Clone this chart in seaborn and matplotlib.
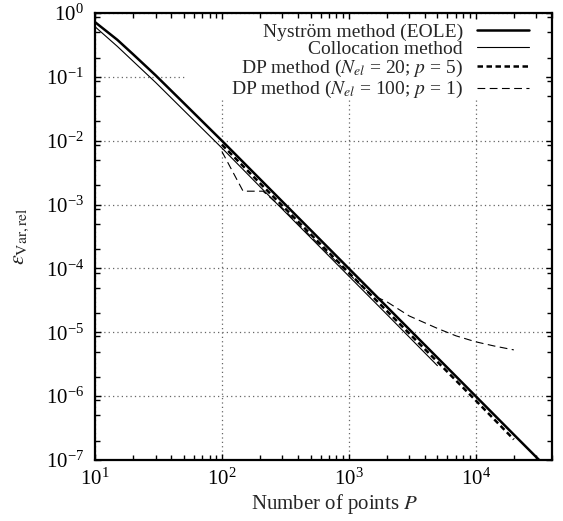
import numpy as np
import pandas as pd
import matplotlib
matplotlib.use("Agg")
import matplotlib.pyplot as plt
from matplotlib.patches import Rectangle
from matplotlib.ticker import FixedLocator, LogFormatterMathtext, NullFormatter
import seaborn as sns

# Relative variance error versus number of discretisation points
P_nystrom = [10, 15, 20, 30, 50, 100, 200, 500, 1000, 2000, 5000, 10000, 20000, 32000]
eps_nystrom = [0.72, 0.38, 0.225, 0.106, 0.039, 0.01, 0.0025, 4.0e-4, 1.0e-4,
               2.5e-5, 4.0e-6, 1.0e-6, 2.5e-7, 9.8e-8]

P_colloc = [10, 15, 20, 30, 50, 100, 200, 500, 1000, 2000, 5000]
eps_colloc = [0.61, 0.30, 0.175, 0.082, 0.030, 0.0077, 0.0019, 3.05e-4, 7.6e-5,
              1.9e-5, 3.0e-6]

P_dp20 = [100, 200, 500, 1000, 2000, 5000, 10000, 20000]
eps_dp20 = [0.0087, 0.00215, 3.45e-4, 8.6e-5, 2.15e-5, 3.45e-6, 8.6e-7, 2.1e-7]

P_dp100 = [100, 147, 211, 300, 500, 1000, 1500, 2000, 3000, 5000, 7000, 10000, 14000, 20000]
eps_dp100 = [0.0068, 1.62e-3, 1.62e-3, 8.8e-4, 3.2e-4, 8.2e-5, 3.9e-5, 3.0e-5, 1.8e-5,
             1.15e-5, 8.8e-6, 7.1e-6, 6.1e-6, 5.3e-6]

labels = [
    "Nyström method (EOLE)",
    "Collocation method",
    r"DP method ($N_{el}$ = 20; $p$ = 5)",
    r"DP method ($N_{el}$ = 100; $p$ = 1)",
]

x_decades = [1, 2, 3, 4]
y_decades = [-7, -6, -5, -4, -3, -2, -1, 0]

sns.set_style("ticks")
plt.rcParams["font.family"] = ["Liberation Serif", "DejaVu Serif"]
plt.rcParams["mathtext.fontset"] = "stix"
plt.rcParams["font.size"] = 15

fig = plt.figure(figsize=(5.63, 5.21), dpi=100)
ax = fig.add_axes([95 / 563, 1 - 460 / 521, 457 / 563, 447 / 521])

series = [
    (P_nystrom, eps_nystrom, dict(lw=1.8, linestyle="-")),
    (P_colloc, eps_colloc, dict(lw=0.8, linestyle="-")),
    (P_dp20, eps_dp20, dict(lw=1.8, linestyle=(0, (2.2, 1.4)))),
    (P_dp100, eps_dp100, dict(lw=0.8, linestyle=(0, (7, 4)))),
]
for (px, ey, style), lab in zip(series, labels):
    df = pd.DataFrame({"P": px, "eps": ey})
    sns.lineplot(data=df, x="P", y="eps", ax=ax, color="black", label=lab,
                 estimator=None, sort=False, zorder=3, **style)

ax.set_xscale("log")
ax.set_yscale("log")
ax.set_xlim(10, 4e4)
ax.set_ylim(1e-7, 1)

x_major = [10.0 ** d for d in x_decades]
x_minor = [m * 10.0 ** d for d in x_decades for m in range(2, 10) if m * 10.0 ** d <= 4e4]
y_major = [10.0 ** d for d in y_decades]
y_minor = [m * 10.0 ** d for d in y_decades[:-1] for m in (2, 5, 8.6)]

ax.xaxis.set_major_locator(FixedLocator(x_major))
ax.xaxis.set_minor_locator(FixedLocator(x_minor))
ax.yaxis.set_major_locator(FixedLocator(y_major))
ax.yaxis.set_minor_locator(FixedLocator(y_minor))
ax.xaxis.set_major_formatter(LogFormatterMathtext())
ax.yaxis.set_major_formatter(LogFormatterMathtext())
ax.xaxis.set_minor_formatter(NullFormatter())
ax.yaxis.set_minor_formatter(NullFormatter())

ax.tick_params(which="both", direction="in", top=True, right=True, width=1.0,
               colors="black", labelsize=15)
ax.tick_params(which="major", length=4.5)
ax.tick_params(which="minor", length=3.5)
ax.tick_params(axis="x", which="major", pad=6)
ax.tick_params(axis="y", which="major", pad=8)

for sp in ax.spines.values():
    sp.set_linewidth(1.6)
    sp.set_color("black")

ax.set_axisbelow(True)
ax.grid(True, which="major", color="#666666", linestyle=(0, (1, 2.5)), linewidth=0.9)

# opaque key area
ax.add_patch(Rectangle((0.197, 0.81), 0.788, 0.175, transform=ax.transAxes,
                       facecolor="white", edgecolor="none", zorder=1))

ax.set_xlabel("Number of points $P$", fontsize=15)
ax.set_ylabel(r"$\varepsilon_{\mathrm{Var,rel}}$", fontsize=16, rotation=90)
ax.xaxis.set_label_coords(0.525, -0.072)
ax.xaxis.label.set_va("top")
ax.yaxis.set_label_coords(-0.160, 0.5)
ax.yaxis.label.set_va("center")
ax.yaxis.label.set_ha("center")

leg = ax.legend(loc="upper right", bbox_to_anchor=(0.9497, 0.978), frameon=False,
                markerfirst=False, handlelength=2.7, handletextpad=0.7,
                labelspacing=0.0, borderpad=0, borderaxespad=0, fontsize=14)

fig.savefig("out.png", dpi=100)
